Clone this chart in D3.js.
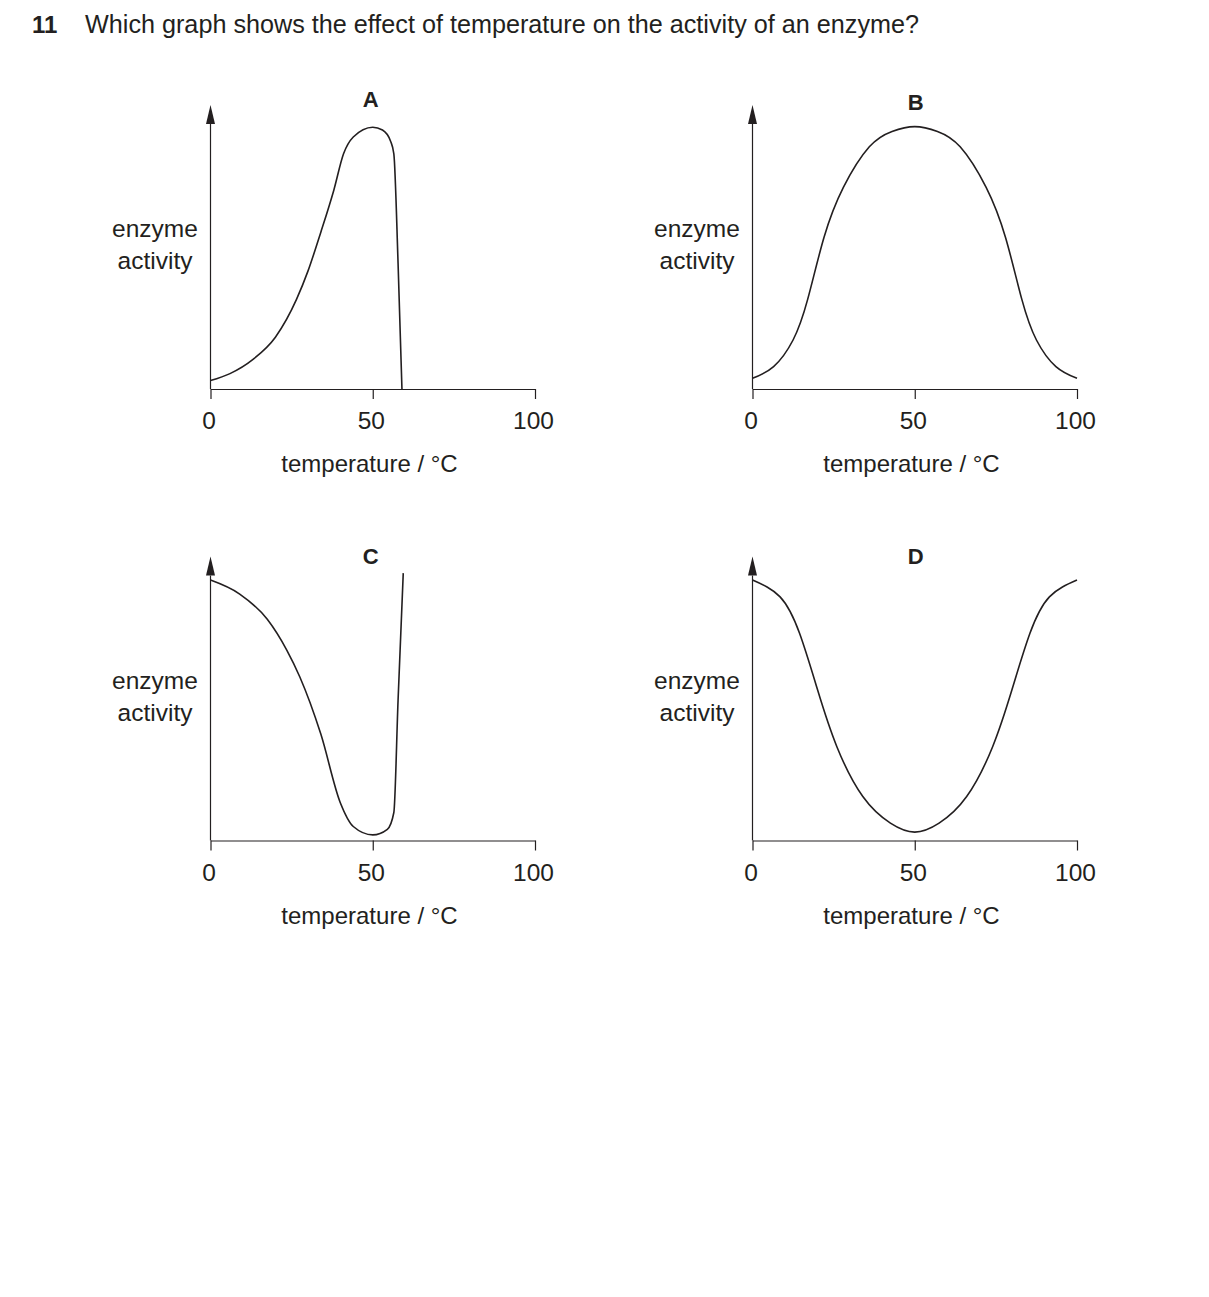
<!DOCTYPE html>
<html>
<head>
<meta charset="utf-8">
<script src="https://cdn.jsdelivr.net/npm/d3@7"></script>
<style>
  body { margin: 0; background: #fff; }
  svg text { font-family: "Liberation Sans", Arial, sans-serif; fill: #231f20; }
</style>
</head>
<body>
<div id="chart"></div>
<script>
// Question text
const questionNumber = "11";
const questionText = "Which graph shows the effect of temperature on the activity of an enzyme?";

// Shared axis labels
const tempTicks = [0, 50, 100];
const xLabel = "temperature / °C";
const yLabelLines = ["enzyme", "activity"];

// Panel letters
const panelLetters = ["A", "B", "C", "D"];

// Curves: [temperature, activity (0-100 of axis height)]
const curveA = [[0, 3], [6, 5.5], [13, 10.5], [20, 18.5], [26.5, 32], [30, 42], [34, 56], [38, 71],
  [41, 84], [44, 90], [50, 93.5], [53, 92.5], [55.5, 88.5], [56.5, 84], [57.8, 45], [59, 0]];
const curveB = [[0, 3.8], [6.5, 8], [12.5, 17.5], [17, 32], [22, 54], [28, 72], [36, 86.5], [43, 92],
  [50, 93.7], [57, 92], [64, 86.5], [72, 72], [78, 54], [83, 32], [87.5, 17.5], [93.5, 8], [100, 3.8]];
const curveC = [[0, 93], [9, 88], [17.5, 79], [23.5, 68], [27.5, 58.5], [34, 38], [40, 13.5], [44, 5],
  [50, 2], [54.5, 4], [56.5, 10], [57.8, 50], [59.4, 95.5]];
const curveD = [[0, 93], [8.5, 87], [14.5, 74], [20, 54], [26, 33.5], [34, 15.7], [42.5, 6.2], [50, 3],
  [57.5, 6.2], [66, 15.7], [74, 33.5], [80, 54], [85.5, 74], [91.5, 87], [100, 93]];

const curves = [curveA, curveB, curveC, curveD];
// A and C have sharp bends, B and D are smooth bells
const curveTypes = [d3.curveMonotoneX, d3.curveNatural, d3.curveMonotoneX, d3.curveNatural];

// Layout
const width = 1209, height = 1297;
const plotW = 324.5, plotH = 280;
const panelOrigins = [[210.5, 389], [752.5, 389], [210.5, 840.5], [752.5, 840.5]];
const ink = "#231f20";

const svg = d3.select("#chart").append("svg")
  .attr("width", width)
  .attr("height", height);

// Header
svg.append("text")
  .attr("x", 32).attr("y", 33)
  .attr("font-size", 24).attr("font-weight", "bold")
  .text(questionNumber);
svg.append("text")
  .attr("x", 85).attr("y", 33)
  .attr("font-size", 25.2)
  .text(questionText);

const x = d3.scaleLinear().domain([0, 100]).range([0, plotW]);
const y = d3.scaleLinear().domain([0, 100]).range([0, -plotH]);

curves.forEach((data, i) => {
  const [ox, oy] = panelOrigins[i];
  const g = svg.append("g").attr("transform", `translate(${ox},${oy})`);

  // x axis
  const xAxis = g.append("g")
    .call(d3.axisBottom(x).tickValues(tempTicks).tickSize(10).tickSizeOuter(0).tickPadding(13));
  xAxis.select(".domain").attr("stroke", ink).attr("stroke-width", 1.2);
  xAxis.selectAll(".tick line").attr("stroke", ink).attr("stroke-width", 1.2);
  xAxis.selectAll(".tick text")
    .attr("dx", -2)
    .attr("font-size", 24.5)
    .attr("font-family", "Liberation Sans, Arial, sans-serif")
    .attr("fill", ink);

  // y axis with arrow head
  const tipY = -284, baseY = -265;
  g.append("line")
    .attr("x1", 0).attr("x2", 0)
    .attr("y1", 0).attr("y2", baseY)
    .attr("stroke", ink).attr("stroke-width", 1.2);
  g.append("path")
    .attr("d", `M0,${tipY}L4.5,${baseY}L-4.5,${baseY}Z`)
    .attr("fill", ink);

  // y label
  const yl = g.append("text")
    .attr("text-anchor", "middle")
    .attr("font-size", 24.5);
  yLabelLines.forEach((t, k) => {
    yl.append("tspan")
      .attr("x", -55.5)
      .attr("y", -152 + k * 32)
      .text(t);
  });

  // x label
  g.append("text")
    .attr("x", x(49))
    .attr("y", 83)
    .attr("text-anchor", "middle")
    .attr("font-size", 24)
    .text(xLabel);

  // panel letter
  g.append("text")
    .attr("x", x(50) + (i % 2 === 0 ? -2 : 1))
    .attr("y", i === 0 ? -282 : (i === 1 ? -279 : -277))
    .attr("text-anchor", "middle")
    .attr("font-size", 22)
    .attr("font-weight", "bold")
    .text(panelLetters[i]);

  // curve
  const line = d3.line()
    .x(d => x(d[0]))
    .y(d => y(d[1]))
    .curve(curveTypes[i]);
  g.append("path")
    .datum(data)
    .attr("d", line)
    .attr("fill", "none")
    .attr("stroke", ink)
    .attr("stroke-width", 1.6)
    .attr("stroke-linejoin", "round");
});
</script>
</body>
</html>
